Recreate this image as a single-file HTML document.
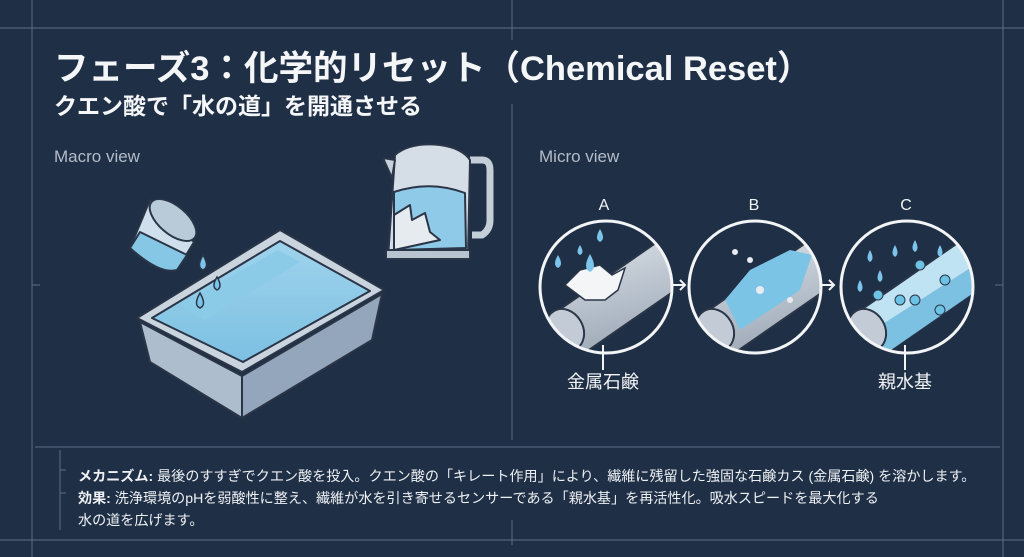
<!DOCTYPE html>
<html><head><meta charset="utf-8"><style>
html,body{margin:0;padding:0;width:1024px;height:557px;overflow:hidden;background:#1f2f46;}
svg{display:block}
text{font-family:"Liberation Sans","Noto Sans CJK JP",sans-serif;}
</style></head><body>
<svg width="1024" height="557" viewBox="0 0 1024 557" xmlns="http://www.w3.org/2000/svg">
<defs>
<linearGradient id="pipe" x1="0" y1="0" x2="0.3" y2="1"><stop offset="0" stop-color="#dde3ea"/><stop offset="1" stop-color="#9aa6b4"/></linearGradient>
<linearGradient id="water" x1="0" y1="0" x2="0" y2="1"><stop offset="0" stop-color="#9fd3ec"/><stop offset="1" stop-color="#7cc0e2"/></linearGradient>
<clipPath id="cA"><circle cx="606" cy="287" r="66"/></clipPath>
<clipPath id="cB"><circle cx="755" cy="287" r="66"/></clipPath>
<clipPath id="cC"><circle cx="907" cy="287" r="66"/></clipPath>
</defs>
<rect width="1024" height="557" fill="#1f2f46"/>
<g stroke="#5b6d85" stroke-width="1" fill="none">
<line x1="32" y1="0" x2="32" y2="557"/>
<line x1="1003" y1="0" x2="1003" y2="557"/>
<line x1="0" y1="28" x2="1024" y2="28"/>
<line x1="0" y1="540" x2="1024" y2="540"/>
<line x1="512" y1="0" x2="512" y2="40"/>
<line x1="512" y1="104" x2="512" y2="440"/>
<line x1="512" y1="520" x2="512" y2="545"/>
<line x1="35" y1="447" x2="1000" y2="447"/>
<line x1="60" y1="450" x2="60" y2="530"/>
<line x1="60" y1="470" x2="66" y2="470"/>
<line x1="60" y1="493" x2="66" y2="493"/>
<line x1="32" y1="285" x2="40" y2="285"/>
<line x1="995" y1="285" x2="1003" y2="285"/>
</g>
<text x="54" y="80" font-size="34.5" font-weight="bold" fill="#f4f6f8">フェーズ3：化学的リセット（Chemical Reset）</text>
<text x="54" y="114" font-size="23" font-weight="bold" fill="#f4f6f8">クエン酸で「水の道」を開通させる</text>
<text x="54" y="162" font-size="17" fill="#b3bcc8">Macro view</text>
<text x="539" y="162" font-size="17" fill="#b3bcc8">Micro view</text>

<!-- tub -->
<g stroke="#2a3547" stroke-width="2" stroke-linejoin="round">
<polygon points="140,322 242,376 242,418 150,362" fill="#aebdcd"/>
<polygon points="242,376 382,294 372,340 242,418" fill="#93a6bb"/>
<polygon points="137,318 280,230 384,290 242,372" fill="#c9d4df"/>
<polygon points="152,318 280,241 370,291 243,362" fill="url(#water)"/>
<polygon points="180,305 278,250 300,262 205,320" fill="#8ccbe8" stroke="none"/>
</g>
<!-- cup -->
<g stroke="#2a3547" stroke-width="2" stroke-linejoin="round">
<path d="M150 200 L194 242 L177 270 Q160 275 130 248 Z" fill="#cfe0ec"/>
<path d="M140 232 L187 255 L177 270 Q160 275 130 248 Z" fill="#86c7e6"/>
<ellipse cx="173" cy="220" rx="28" ry="14" transform="rotate(40 173 220)" fill="#b9cbd9"/>
</g>
<g fill="#7cc4ea" stroke="#2a3547" stroke-width="1.5">
<path d="M203 255 q-7 12 0 15 q7 -3 0 -15z"/>
<path d="M217 277 q-6 10 0 13 q6 -3 0 -13z"/>
<path d="M200 293 q-7 12 0 15 q7 -3 0 -15z"/>
</g>
<!-- kettle -->
<g stroke="#2a3547" stroke-width="2" stroke-linejoin="round">
<path d="M470 160 h12 q8 0 8 10 v50 q0 10 -8 15 h-10" fill="none" stroke="#c4ced9" stroke-width="7"/>
<path d="M395 155 Q410 142 440 145 Q462 148 470 160 L468 255 L388 258 Z" fill="#d5dde6"/>
<path d="M395 160 L383 158 L392 178 Z" fill="#c7d1dc"/>
<path d="M394 192 Q430 180 465 193 L466 248 L394 250 Z" fill="#8fcbe8"/>
<path d="M394 215 L410 205 L412 220 L425 213 L430 232 L440 240 L394 250 Z" fill="#e6ebf0"/>
<rect x="386" y="250" width="84" height="9" fill="#b8c4d0"/>
</g>
<!-- micro circles -->
<g>
 <circle cx="606" cy="287" r="66" fill="#1f2f46"/>
 <g clip-path="url(#cA)">
  <polygon points="530,330 660,240 690,280 560,370" fill="url(#pipe)" stroke="#2a3547" stroke-width="2"/>
  <ellipse cx="565" cy="330" rx="18" ry="22" transform="rotate(-30 565 330)" fill="#c3ccd6" stroke="#2a3547" stroke-width="2"/>
  <polygon points="565,285 580,270 600,265 612,275 625,268 618,290 605,300 585,300" fill="#f3f5f7" stroke="#2a3547" stroke-width="1.5"/>
  <g fill="#7cc4ea"><path d="M600 229 q-6 10 0 13 q6 -3 0 -13z"/><path d="M580 245 q-5 8 0 10 q5 -2 0 -10z"/><path d="M558 255 q-6 10 0 13 q6 -3 0 -13z"/><path d="M590 254 q-8 14 0 18 q8 -4 0 -18z"/></g>
 </g>
 <circle cx="606" cy="287" r="66" fill="none" stroke="#f2f4f6" stroke-width="3"/>
 <circle cx="755" cy="287" r="66" fill="#1f2f46"/>
 <g clip-path="url(#cB)">
  <polygon points="680,330 810,240 840,280 710,370" fill="url(#pipe)" stroke="#2a3547" stroke-width="2"/>
  <polygon points="725,300 750,270 790,250 812,255 800,290 770,310 740,330" fill="#7cc4e6"/>
  <ellipse cx="715" cy="330" rx="18" ry="22" transform="rotate(-30 715 330)" fill="#c3ccd6" stroke="#2a3547" stroke-width="2"/>
  <g fill="#e8ecf0"><circle cx="735" cy="252" r="3"/><circle cx="750" cy="260" r="3"/><circle cx="760" cy="290" r="4"/><circle cx="790" cy="300" r="3"/></g>
 </g>
 <circle cx="755" cy="287" r="66" fill="none" stroke="#f2f4f6" stroke-width="3"/>
 <circle cx="907" cy="287" r="66" fill="#1f2f46"/>
 <g clip-path="url(#cC)">
  <polygon points="832,330 962,240 992,280 862,370" fill="#bfe3f2" stroke="#2a3547" stroke-width="2"/>
  <polygon points="850,345 975,265 985,285 862,370" fill="#7cc0e2"/>
  <ellipse cx="867" cy="330" rx="18" ry="22" transform="rotate(-30 867 330)" fill="#c3ccd6" stroke="#2a3547" stroke-width="2"/>
  <g fill="#6cc3e6" stroke="#2a3547" stroke-width="1"><circle cx="878" cy="295" r="5"/><circle cx="915" cy="300" r="5"/><circle cx="945" cy="280" r="5"/><circle cx="920" cy="265" r="5"/><circle cx="900" cy="300" r="5"/><circle cx="940" cy="310" r="5"/></g>
  <g fill="#7cc4ea"><path d="M870 250 q-5 9 0 12 q5 -3 0 -12z"/><path d="M895 245 q-5 9 0 12 q5 -3 0 -12z"/><path d="M915 240 q-5 9 0 12 q5 -3 0 -12z"/><path d="M880 270 q-5 9 0 12 q5 -3 0 -12z"/><path d="M860 280 q-5 9 0 12 q5 -3 0 -12z"/><path d="M940 245 q-5 9 0 12 q5 -3 0 -12z"/></g>
 </g>
 <circle cx="907" cy="287" r="66" fill="none" stroke="#f2f4f6" stroke-width="3"/>
</g>
<g stroke="#f2f4f6" stroke-width="2" fill="none">
<path d="M673 285 h12 M680 280 l5 5 -5 5"/>
<path d="M822 285 h12 M829 280 l5 5 -5 5"/>
<line x1="603" y1="345" x2="603" y2="370"/>
<line x1="905" y1="345" x2="905" y2="370"/>
</g>
<g fill="#f2f4f6" font-size="16" text-anchor="middle">
<text x="604" y="210">A</text><text x="754" y="210">B</text><text x="906" y="210">C</text>
<text x="603" y="388" font-size="18">金属石鹸</text>
<text x="905" y="388" font-size="18">親水基</text>
</g>
<g fill="#eef1f4" font-size="14.1">
<text x="78" y="481"><tspan font-weight="bold">メカニズム:</tspan> 最後のすすぎでクエン酸を投入。クエン酸の「キレート作用」により、繊維に残留した強固な石鹸カス (金属石鹸) を溶かします。</text>
<text x="78" y="503"><tspan font-weight="bold">効果:</tspan> 洗浄環境のpHを弱酸性に整え、繊維が水を引き寄せるセンサーである「親水基」を再活性化。吸水スピードを最大化する</text>
<text x="78" y="525">水の道を広げます。</text>
</g>
</svg>
</body></html>
